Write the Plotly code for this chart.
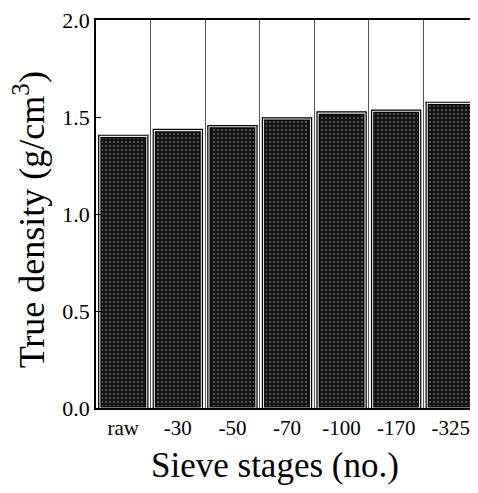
import plotly.graph_objects as go

categories = ["raw", "-30", "-50", "-70", "-100", "-170", "-325"]
true_density = [1.40, 1.43, 1.45, 1.49, 1.52, 1.53, 1.57]
y_ticks = [0.0, 0.5, 1.0, 1.5, 2.0]

serif = "Liberation Serif, Times New Roman, serif"

fig = go.Figure()
fig.add_trace(go.Bar(
    x=categories,
    y=true_density,
    marker=dict(
        color="#141414",
        line=dict(color="black", width=3.5),
        pattern=dict(shape=".", fgcolor="#a8a8a8", bgcolor="#141414", size=4, solidity=0.22),
    ),
    width=0.86,
    hoverinfo="skip",
))
# thin light rim inside the black outline
fig.add_trace(go.Bar(
    x=categories,
    y=true_density,
    marker=dict(color="rgba(0,0,0,0)", line=dict(color="#e8e8e8", width=1.1)),
    width=0.86,
))

fig.update_layout(
    width=470, height=485,
    margin=dict(l=88, r=0, t=12, b=85),
    paper_bgcolor="white", plot_bgcolor="white",
    showlegend=False,
    barmode="overlay",
    font=dict(family=serif, color="black"),
    annotations=[
        dict(text="True density (g/cm<sup>3</sup>)", textangle=-90,
             xref="paper", yref="paper", x=-0.174, y=0.485,
             xanchor="center", yanchor="middle", showarrow=False,
             font=dict(size=36, family=serif)),
        dict(text="Sieve stages (no.)",
             xref="paper", yref="paper", x=0.469, y=-0.149,
             xanchor="center", yanchor="middle", showarrow=False,
             font=dict(size=35, family=serif)),
    ],
)
fig.update_xaxes(
    type="category",
    tickson="boundaries",
    showgrid=True, gridcolor="#555", gridwidth=1,
    ticks="",
    showline=True, linecolor="black", linewidth=1.5, mirror=True,
    tickfont=dict(size=21, family=serif),
    automargin=False,
    ticklabeloverflow="allow",
)
fig.update_yaxes(
    range=[0, 2.0],
    tickvals=y_ticks,
    tickformat=".1f",
    ticks="inside", ticklen=5, tickcolor="black",
    showgrid=False, zeroline=False,
    showline=True, linecolor="black", linewidth=1.5,
    tickfont=dict(size=22, family=serif),
    automargin=False,
    ticklabeloverflow="allow",
)

fig.write_html("out.html")
